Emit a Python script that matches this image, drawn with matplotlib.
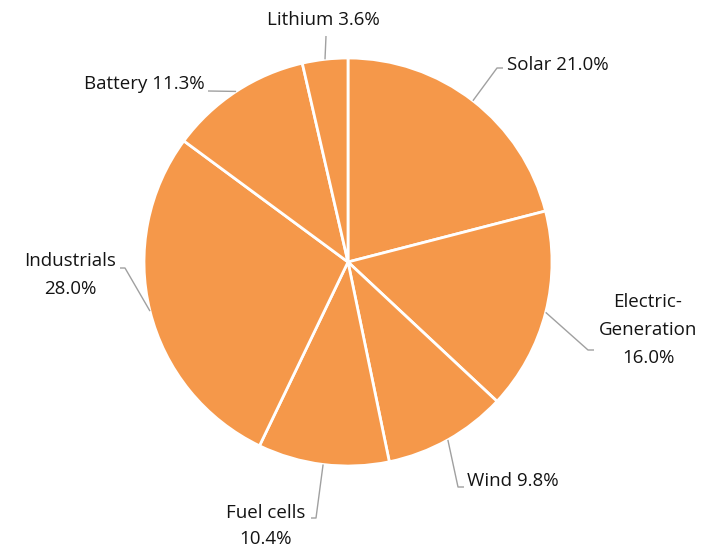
import matplotlib
matplotlib.use('Agg')
import matplotlib.pyplot as plt
import numpy as np


LABELS = ['Solar', 'Electric-\nGeneration', 'Wind', 'Fuel cells',
          'Industrials', 'Battery', 'Lithium']
SHARES = [21.0, 16.0, 9.8, 10.4, 28.0, 11.3, 3.6]

PIE_COLOR = '#F5984A'
TEXT_COLOR = '#141414'
LINE_COLOR = '#a0a0a0'

# pixel frame of the reference: pie centre and radius
CX, CY, R = 348, 262, 204
W, H = 706, 550

# label layout in pixels: elbow, stub end, text anchor, ha, separator
LAYOUT = {
    'Solar': ((497, 68), (503, 68), (507, 65), 'left', ' '),
    'Electric-\nGeneration': ((588, 350), (594, 350), (648, 330), 'center', '\n'),
    'Wind': ((458, 487), (464, 487), (467, 481), 'left', ' '),
    'Fuel cells': ((316, 518), (311, 518), (266, 526), 'center', '\n'),
    'Industrials': ((125, 268), (120, 268), (70, 275), 'center', '\n'),
    'Battery': (None, (208, 91), (205, 84), 'right', ' '),
    'Lithium': ((326, 36), None, (323, 20), 'center', ' '),
}


def to_data(p):
    return (p[0] - CX) / R, (CY - p[1]) / R


def main():
    plt.rcParams['font.family'] = ['Open Sans', 'DejaVu Sans']
    fig = plt.figure(figsize=(W / 100, H / 100), dpi=100)
    ax = fig.add_axes([0, 0, 1, 1])
    wedges, _ = ax.pie(
        SHARES, startangle=90, counterclock=False, radius=1,
        colors=[PIE_COLOR] * len(SHARES),
        wedgeprops=dict(edgecolor='white', linewidth=2),
    )
    ax.set_xlim(-CX / R, (W - CX) / R)
    ax.set_ylim(-(H - CY) / R, CY / R)
    ax.set_aspect('equal')
    ax.axis('off')

    for w, lab, val in zip(wedges, LABELS, SHARES):
        ang = np.deg2rad((w.theta1 + w.theta2) / 2)
        x0, y0 = np.cos(ang), np.sin(ang)
        elbow, stub, tpos, ha, sep = LAYOUT[lab]
        xs, ys = [x0], [y0]
        for p in (elbow, stub):
            if p is not None:
                px, py = to_data(p)
                xs.append(px)
                ys.append(py)
        ax.plot(xs, ys, color=LINE_COLOR, lw=1, solid_capstyle='butt')
        tx, ty = to_data(tpos)
        ls = 1.6 if lab == 'Fuel cells' else 1.72
        ax.text(tx, ty, f'{lab}{sep}{val:.1f}%', ha=ha, va='center',
                fontsize=13.5, color=TEXT_COLOR, linespacing=ls)

    fig.savefig('out.png', dpi=100, facecolor='white')


if __name__ == '__main__':
    main()
